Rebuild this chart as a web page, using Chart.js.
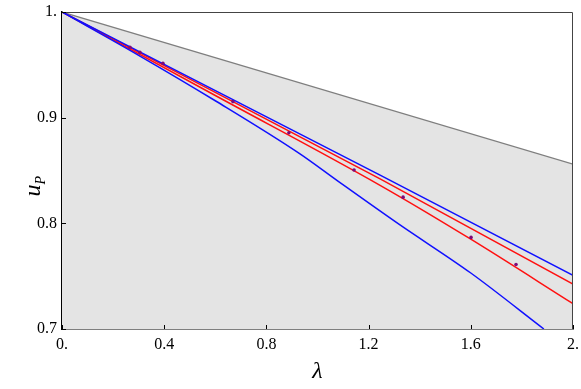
<!DOCTYPE html>
<html>
<head>
<meta charset="utf-8">
<script src="https://cdn.jsdelivr.net/npm/chart.js@4.4.0/dist/chart.umd.min.js"></script>
<style>
    html, body { margin: 0; padding: 0; background: #fff; }
    #wrap { width: 581px; height: 389px; }
</style>
</head>
<body>
<div id="wrap"><canvas id="upChart"></canvas></div>
<script>
"use strict";

// values: [lambda, u_P]
const boundLine = [[0, 1], [2, 0.856]];
const blueUpper = [[0, 1], [1.245, 0.8457], [2, 0.7508]];
const blueLower = [[0, 1], [0.3, 0.959], [0.6, 0.916], [0.93, 0.866], [1.08, 0.840], [1.32, 0.799], [1.6, 0.753], [1.886, 0.70]];
const redUpper = [[0, 1], [1.245, 0.842], [2, 0.7425]];
const redLower = [[0, 1], [0.6, 0.921], [1.245, 0.836], [1.6, 0.785], [2, 0.724]];
const dotsLambda = [0.266, 0.305, 0.395, 0.669, 0.888, 1.143, 1.335, 1.601, 1.777];
const dotsU = [0.9667, 0.9619, 0.9514, 0.9152, 0.8857, 0.8505, 0.8248, 0.7867, 0.7610];

const xTicks = [0, 0.4, 0.8, 1.2, 1.6, 2];
const yTicks = [0.7, 0.8, 0.9, 1];

const serif = '"Liberation Serif", "DejaVu Serif", serif';

function toXY(arr) {
    return arr.map(p => ({x: p[0], y: p[1]}));
}

function fmt(v) {
    let s = (Math.round(v * 10) / 10).toFixed(1);
    if (s.endsWith('.0')) s = s.slice(0, -1);
    return s;
}

const framePlugin = {
    id: 'frame',
    afterDraw(chart) {
        const ctx = chart.ctx;
        const a = chart.chartArea;
        const xs = chart.scales.x;
        const ys = chart.scales.y;
        ctx.save();
        // top and right frame
        ctx.strokeStyle = '#444';
        ctx.lineWidth = 1;
        ctx.beginPath();
        ctx.moveTo(a.left, a.top + 0.5);
        ctx.lineTo(a.right - 0.5, a.top + 0.5);
        ctx.lineTo(a.right - 0.5, a.bottom);
        ctx.stroke();
        // inward ticks
        ctx.strokeStyle = '#000';
        ctx.beginPath();
        for (let i = 0; i < xTicks.length; i++) {
            const px = Math.round(xs.getPixelForValue(xTicks[i])) + 0.5;
            ctx.moveTo(px, a.bottom);
            ctx.lineTo(px, a.bottom - 4);
        }
        for (let i = 0; i < yTicks.length; i++) {
            const py = Math.round(ys.getPixelForValue(yTicks[i])) + 0.5;
            ctx.moveTo(a.left, py);
            ctx.lineTo(a.left + 4, py);
        }
        ctx.stroke();
        // axis titles
        ctx.fillStyle = '#000';
        ctx.textAlign = 'center';
        ctx.textBaseline = 'alphabetic';
        ctx.font = 'italic 24px ' + serif;
        ctx.fillText('λ', (a.left + a.right) / 2, 378);
        ctx.translate(40, (a.top + a.bottom) / 2);
        ctx.rotate(-Math.PI / 2);
        ctx.textAlign = 'left';
        ctx.font = 'italic 24px ' + serif;
        ctx.fillText('u', -26, 0);
        ctx.font = 'italic 14px ' + serif;
        ctx.fillText('P', -14, 5);
        ctx.restore();
    }
};

const lineStyle = {showLine: true, pointRadius: 0, borderWidth: 1.5, fill: false, order: 1};

const chart = new Chart(document.getElementById('upChart'), {
    type: 'scatter',
    data: {
        datasets: [
            {data: toXY(boundLine), showLine: true, pointRadius: 0, borderWidth: 1.2, borderColor: '#7f7f7f',
                fill: 'start', backgroundColor: '#e4e4e4', order: 5},
            Object.assign({data: toXY(blueUpper), borderColor: '#1010ff'}, lineStyle),
            Object.assign({data: toXY(blueLower), borderColor: '#1010ff', cubicInterpolationMode: 'monotone'}, lineStyle),
            Object.assign({data: toXY(redUpper), borderColor: '#ff1010'}, lineStyle),
            Object.assign({data: toXY(redLower), borderColor: '#ff1010', cubicInterpolationMode: 'monotone'}, lineStyle),
            {data: dotsLambda.map((v, i) => ({x: v, y: dotsU[i]})), pointRadius: 1.8, pointBorderWidth: 0,
                pointBackgroundColor: '#7d0a7a', showLine: false, order: 0}
        ]
    },
    options: {
        responsive: true,
        maintainAspectRatio: false,
        animation: false,
        layout: {padding: {top: 12, right: 8, left: 0, bottom: 0}},
        plugins: {legend: {display: false}, tooltip: {enabled: false}},
        scales: {
            x: {
                type: 'linear', min: 0, max: 2,
                afterBuildTicks: s => { s.ticks = xTicks.map(v => ({value: v})); },
                afterFit: s => { s.height = 60; s.paddingLeft = 0; s.paddingRight = 0; },
                grid: {display: false, drawTicks: false},
                border: {color: '#000', width: 1.5},
                ticks: {padding: 6, color: '#000', font: {family: serif, size: 16},
                    maxRotation: 0, callback: v => fmt(v)}
            },
            y: {
                type: 'linear', min: 0.7, max: 1,
                afterBuildTicks: s => { s.ticks = yTicks.map(v => ({value: v})); },
                afterFit: s => { s.width = 62; s.paddingTop = 0; s.paddingBottom = 0; },
                grid: {display: false, drawTicks: false},
                border: {color: '#000', width: 1.5},
                ticks: {padding: 5, color: '#000', font: {family: serif, size: 16}, callback: v => fmt(v)}
            }
        }
    },
    plugins: [framePlugin]
});
</script>
</body>
</html>
